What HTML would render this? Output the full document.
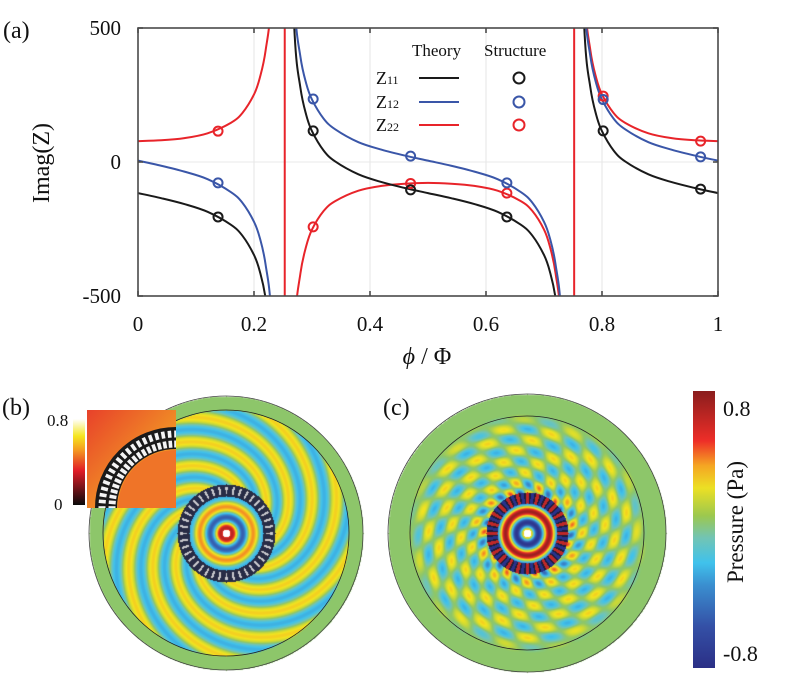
<!DOCTYPE html>
<html><head><meta charset="utf-8"><style>
html,body{margin:0;padding:0;background:#fff;}
#wrap{position:relative;width:789px;height:685px;overflow:hidden;font-family:"Liberation Serif",serif;}
canvas,svg{position:absolute;left:0;top:0;}
</style></head><body>
<div id="wrap">
<canvas id="fb" width="789" height="685"></canvas>
<svg id="chart" width="789" height="685" viewBox="0 0 789 685"></svg>
</div>
<script>
// ---- data ----
const phiGrid=[0,0.04,0.08,0.12,0.16,0.18,0.20,0.21,0.22,0.23,0.24,0.25,0.26,0.27,0.28,0.29,0.30,0.32,0.34,0.38,0.42,0.46,0.50,0.54,0.58,0.62,0.66,0.68,0.70,0.71,0.72,0.73,0.74,0.75,0.76,0.77,0.78,0.79,0.80,0.82,0.84,0.88,0.92,0.96,1.0];
const z11Theory=[-116,-135,-157,-186,-234,-275,-347,-408,-509,-710,-1308,null,1076,478,277,176,115,43,2,-46,-75,-97,-116,-135,-157,-186,-234,-275,-347,-408,-509,-710,-1308,null,1076,478,277,176,115,43,2,-46,-75,-97,-116];
const z12Theory=[5,-14,-36,-64,-112,-152,-223,-283,-383,-581,-1171,null,1181,591,393,293,233,162,122,74,46,24,5,-14,-36,-64,-112,-152,-223,-283,-383,-581,-1171,null,1181,591,393,293,233,162,122,74,46,24,5];
const z22Theory=[78,81,89,107,146,183,252,314,416,622,1242,null,-1242,-622,-416,-314,-252,-183,-146,-107,-89,-81,-78,-81,-89,-107,-146,-183,-252,-314,-416,-622,-1242,null,1242,622,416,314,252,183,146,107,89,81,78];
const structPhi=[0.138,0.302,0.47,0.636,0.802,0.97];
const z11Struct=[-205,116,-104,-205,116,-101];
const z12Struct=[-78,235,22,-78,233,19];
const z22Struct=[115,-242,-80,-116,246,78];
const asymptotes=[0.253,0.752];
const xTicks=[0,0.2,0.4,0.6,0.8,1];
const xTickLabels=["0","0.2","0.4","0.6","0.8","1"];
const yTicks=[500,0,-500];
const yTickLabels=["500","0","-500"];

const X0=138,X1=718,Y0=296,Y1=28;
function sx(p){return X0+(X1-X0)*p;}
function sy(v){return Y0-(Y0-Y1)*(v+500)/1000;}
const NS="http://www.w3.org/2000/svg";
const svg=document.getElementById('chart');
function el(tag,attrs,parent){const e=document.createElementNS(NS,tag);for(const k in attrs)e.setAttribute(k,attrs[k]);(parent||svg).appendChild(e);return e;}

xTicks.forEach((t,i)=>{if(i>0&&i<xTicks.length-1){const g=el('line',{x1:sx(t),x2:sx(t),y1:Y1,y2:Y0,stroke:'#e4e4e4','stroke-width':1});

}});
const g0=el('line',{x1:X0,x2:X1,y1:sy(0),y2:sy(0),stroke:'#e8e8e8','stroke-width':1});



const defs=el('defs',{});
const cp=el('clipPath',{id:'pc'},defs);el('rect',{x:X0,y:Y1,width:X1-X0,height:Y0-Y1},cp);

function pathFor(vals){
  let segs=[],cur=[];
  phiGrid.forEach((p,i)=>{const v=vals[i];if(v===null){if(cur.length)segs.push(cur);cur=[];}else cur.push([sx(p),sy(v)]);});
  if(cur.length)segs.push(cur);
  let d='';
  segs.forEach(s=>{d+='M'+s[0][0]+','+s[0][1];
    for(let i=0;i<s.length-1;i++){const p0=s[Math.max(0,i-1)],p1=s[i],p2=s[i+1],p3=s[Math.min(s.length-1,i+2)];
      const c1=[p1[0]+(p2[0]-p0[0])/6,p1[1]+(p2[1]-p0[1])/6],c2=[p2[0]-(p3[0]-p1[0])/6,p2[1]-(p3[1]-p1[1])/6];
      d+='C'+c1[0]+','+c1[1]+' '+c2[0]+','+c2[1]+' '+p2[0]+','+p2[1];}
  });
  return d;
}
const gPlot=el('g',{'clip-path':'url(#pc)'});


asymptotes.forEach(a=>{const l=el('line',{x1:sx(a),x2:sx(a),y1:Y1,y2:Y0,stroke:'#e8242a','stroke-width':2},gPlot);

});
const series=[[z22Theory,z22Struct,'#e8242a','z22'],[z12Theory,z12Struct,'#3a56a8','z12'],[z11Theory,z11Struct,'#1a1a1a','z11']];
series.forEach(s=>{const p=el('path',{d:pathFor(s[0]),fill:'none',stroke:s[2],'stroke-width':2},gPlot);

});
series.forEach(s=>{structPhi.forEach((p,i)=>{const c=el('circle',{cx:sx(p),cy:sy(s[1][i]),r:4.5,fill:'none',stroke:s[2],'stroke-width':2},gPlot);

});});

const box=el('rect',{x:X0,y:Y1,width:X1-X0,height:Y0-Y1,fill:'none',stroke:'#4a4a4a','stroke-width':1.6});


xTicks.forEach((t,i)=>{el('line',{x1:sx(t),x2:sx(t),y1:Y0,y2:Y0-5,stroke:'#4a4a4a','stroke-width':1.6});el('line',{x1:sx(t),x2:sx(t),y1:Y1,y2:Y1+5,stroke:'#4a4a4a','stroke-width':1.6});
const tx=el('text',{x:sx(t),y:331,'text-anchor':'middle','font-size':21,fill:'#111'});tx.textContent=xTickLabels[i];

});
yTicks.forEach((t,i)=>{el('line',{x1:X0,x2:X0+5,y1:sy(t),y2:sy(t),stroke:'#4a4a4a','stroke-width':1.6});el('line',{x1:X1,x2:X1-5,y1:sy(t),y2:sy(t),stroke:'#4a4a4a','stroke-width':1.6});
const tx=el('text',{x:121,y:sy(t)+7,'text-anchor':'end','font-size':21,fill:'#111'});tx.textContent=yTickLabels[i];

});
</script>
<svg width="789" height="685" style="position:absolute;left:0;top:0;font-family:'Liberation Serif',serif;">
<text x="3" y="38" font-size="24" fill="#111">(a)</text>
<text transform="translate(49,163) rotate(-90)" text-anchor="middle" font-size="24" fill="#111">Imag(Z)</text>
<text x="427" y="364" text-anchor="middle" font-size="24" fill="#111"><tspan font-style="italic">ϕ</tspan> / Φ</text>
<g fill="#111">
<text x="412" y="56" font-size="17">Theory</text>
<text x="484" y="56" font-size="17">Structure</text>
<g><text x="376" y="84" font-size="18">Z<tspan font-size="12">11</tspan></text><line x1="419" x2="459" y1="78" y2="78" stroke="#1a1a1a" stroke-width="2"/><circle cx="519" cy="78" r="5.5" fill="none" stroke="#1a1a1a" stroke-width="2"/></g>
<g><text x="376" y="108" font-size="18">Z<tspan font-size="12">12</tspan></text><line x1="419" x2="459" y1="102" y2="102" stroke="#3a56a8" stroke-width="2"/><circle cx="519" cy="102" r="5.5" fill="none" stroke="#3a56a8" stroke-width="2"/></g>
<g><text x="376" y="131" font-size="18">Z<tspan font-size="12">22</tspan></text><line x1="419" x2="459" y1="125" y2="125" stroke="#e8242a" stroke-width="2"/><circle cx="519" cy="125" r="5.5" fill="none" stroke="#e8242a" stroke-width="2"/></g>
</g>
<text x="2" y="415" font-size="24" fill="#111">(b)</text>
<text x="383" y="415" font-size="24" fill="#111">(c)</text>
<circle cx="226" cy="533" r="123" fill="none" stroke="#222" stroke-width="0.8"/>
<circle cx="226" cy="533" r="137" fill="none" stroke="#444" stroke-width="0.8"/>
<circle cx="527" cy="533" r="117" fill="none" stroke="#222" stroke-width="0.8"/>
<circle cx="527" cy="533" r="139" fill="none" stroke="#444" stroke-width="0.8"/>
<defs>
<linearGradient id="cbar" x1="0" y1="1" x2="0" y2="0">
<stop offset="0" stop-color="#2b2f86"/><stop offset="0.15" stop-color="#3450a6"/><stop offset="0.3" stop-color="#3a8fd0"/><stop offset="0.38" stop-color="#40c2ec"/><stop offset="0.47" stop-color="#72c4b4"/><stop offset="0.55" stop-color="#9cc84e"/><stop offset="0.65" stop-color="#ece024"/><stop offset="0.73" stop-color="#f5a623"/><stop offset="0.82" stop-color="#ee2e28"/><stop offset="1" stop-color="#8a1d1d"/></linearGradient>
<linearGradient id="icbar" x1="0" y1="1" x2="0" y2="0"><stop offset="0" stop-color="#0a0a0a"/><stop offset="0.4" stop-color="#e11d28"/><stop offset="0.65" stop-color="#f5a020"/><stop offset="0.8" stop-color="#f5e61e"/><stop offset="1" stop-color="#ffffff"/></linearGradient>
<linearGradient id="inset-bg" x1="0" y1="0" x2="1" y2="1"><stop offset="0" stop-color="#e8412a"/><stop offset="0.55" stop-color="#f08a26"/><stop offset="1" stop-color="#f6b62a"/></linearGradient>
<clipPath id="insclip"><rect x="87" y="410" width="89" height="98"/></clipPath>
</defs>
<rect x="693" y="391" width="22" height="277" fill="url(#cbar)"/>
<text x="723" y="416" font-size="22" fill="#111">0.8</text>
<text x="723" y="661" font-size="22" fill="#111">-0.8</text>
<text transform="translate(743,522) rotate(-90)" text-anchor="middle" font-size="23" fill="#111">Pressure (Pa)</text>
<g>
<rect x="87" y="410" width="89" height="98" fill="url(#inset-bg)"/>
<g clip-path="url(#insclip)" id="insring">
<circle cx="176" cy="508" r="70" fill="none" stroke="#1a1a1a" stroke-width="22"/>
<circle cx="176" cy="508" r="58" fill="#ef7428"/>
</g>
<rect x="73" y="419" width="12" height="86" fill="url(#icbar)"/>
<text x="47" y="426" font-size="17" fill="#111">0.8</text>
<text x="54" y="510" font-size="17" fill="#111">0</text>
</g>
</svg>
<script>
(function(){const g=document.getElementById('insring');const NS="http://www.w3.org/2000/svg";
for(let a=180;a<=270;a+=5){const r=Math.PI*a/180;for(const rr of [64,74]){const b=document.createElementNS(NS,'rect');
const cx=176+rr*Math.cos(r),cy=508+rr*Math.sin(r);
b.setAttribute('x',cx-3.5);b.setAttribute('y',cy-1.8);b.setAttribute('width',7);b.setAttribute('height',3.6);b.setAttribute('fill','#f4f4f4');
b.setAttribute('transform','rotate('+a+' '+cx+' '+cy+')');g.appendChild(b);}}})();
const stops=[[-0.8,[43,47,134]],[-0.6,[52,80,166]],[-0.4,[58,143,208]],[-0.25,[64,194,236]],[-0.1,[114,196,180]],[0,[141,198,106]],[0.12,[200,216,56]],[0.25,[243,228,31]],[0.4,[245,166,35]],[0.55,[238,46,40]],[0.8,[138,29,29]]];
function cmap(v){if(v<=stops[0][0])return stops[0][1];for(let i=1;i<stops.length;i++){if(v<=stops[i][0]){const a=stops[i-1],b=stops[i],t=(v-a[0])/(b[0]-a[0]);return [0,1,2].map(k=>a[1][k]+(b[1][k]-a[1][k])*t);}}return stops[stops.length-1][1];}
const cv=document.getElementById('fb'),ctx=cv.getContext('2d');const img=ctx.createImageData(789,685);const D=img.data;
function put(x,y,c){const i=(y*789+x)*4;D[i]=c[0];D[i+1]=c[1];D[i+2]=c[2];D[i+3]=255;}
function ringB(r,th){const s=Math.cos(40*th);if(s>0.6&&r>39&&r<47)return [200,200,205];return [40,44,70];}
for(let y=390;y<680;y++)for(let x=80;x<380;x++){const dx=x-226,dy=y-533,r=Math.hypot(dx,dy);if(r>137)continue;const th=Math.atan2(dy,dx);let c;
 if(r>123)c=cmap(0);else if(r>49)c=cmap(0.3*Math.cos(9*th+2*Math.PI*r/26));
 else if(r>37)c=ringB(r,th);else if(r<4)c=[255,255,255];
 else c=cmap((0.75-0.012*r)*Math.cos(2*Math.PI*(r-6)/21));put(x,y,c);}
for(let y=390;y<680;y++)for(let x=385;x<670;x++){const dx=x-527,dy=y-533,r=Math.hypot(dx,dy);if(r>139)continue;const th=Math.atan2(dy,dx);let c;
 if(r>120)c=cmap(0);else if(r>41){const env=r>105?Math.max(0,(120-r)/15):1;c=cmap(env*(0.3+0.25*Math.max(0,(58-r)/17))*Math.cos(14*th+0.06*r)*Math.cos(2*Math.PI*r/22+3*th));}
 else if(r>30){const s=Math.cos(24*th);c=s>0.5?[190,40,40]:(s<-0.5?[40,50,140]:[30,30,60]);}else if(r<4)c=[255,255,255];
 else c=cmap(0.75*Math.cos(2*Math.PI*(r-22)/22));put(x,y,c);}
ctx.putImageData(img,0,0);
</script>
</body></html>
